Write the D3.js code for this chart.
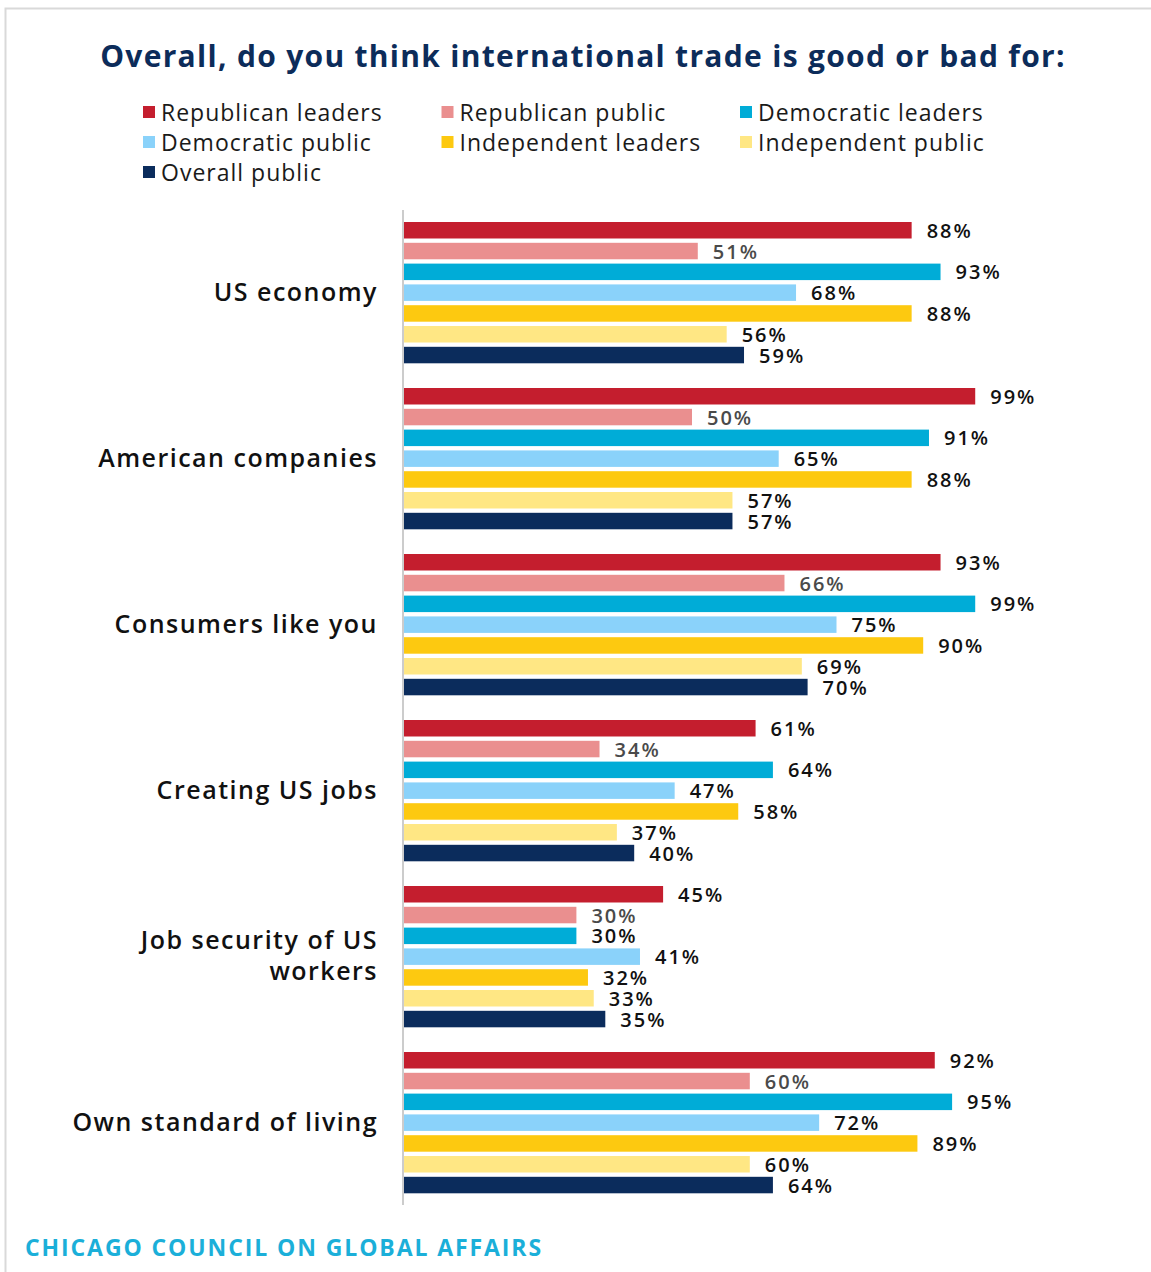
<!DOCTYPE html>
<html>
    <head>
        <meta charset="utf-8">
        <script src="https://d3js.org/d3.v7.min.js"></script>
        <style>
            body { margin: 0; background: #ffffff; }
            #trade-svg .font { font-family: "Open Sans", "Noto Sans", sans-serif; }
            #trade-svg .title { fill: #0c2c5a; font-size: 30px; font-weight: 700; letter-spacing: 1.3px; }
            #trade-svg .legend-text { fill: #1a1a1a; font-size: 23px; letter-spacing: 1px; }
            #trade-svg .category { fill: #111111; font-size: 25px; font-weight: 600; letter-spacing: 1.5px; }
            #trade-svg .value { fill: #111111; font-size: 20px; font-weight: 600; letter-spacing: 2px; }
            #trade-svg .value.muted { fill: #4a4a4a; }
            #trade-svg .footer { fill: #1bafd9; font-size: 23px; font-weight: 700; letter-spacing: 1.9px; }
        </style>
    </head>
    <body>
        <script>
            const SVG_WIDTH = 1151;
            const SVG_HEIGHT = 1272;
            const TITLE_TXT = "Overall, do you think international trade is good or bad for:";
            const FOOTER_TXT = "CHICAGO COUNCIL ON GLOBAL AFFAIRS";

            const CATEGORIES = [
                "US economy",
                "American companies",
                "Consumers like you",
                "Creating US jobs",
                "Job security of US workers",
                "Own standard of living"
            ];
            const CATEGORY_LINES = {
                "Job security of US workers": ["Job security of US", "workers"]
            };
            const SERIES = [
                "Republican leaders",
                "Republican public",
                "Democratic leaders",
                "Democratic public",
                "Independent leaders",
                "Independent public",
                "Overall public"
            ];
            const COLORS = ["#c41e2e", "#ea8f8f", "#00acd7", "#8ad2fa", "#fdc910", "#ffe784", "#0b2c5c"];

            // one array per category, in SERIES order
            const US_ECONOMY = [88, 51, 93, 68, 88, 56, 59];
            const AMERICAN_COMPANIES = [99, 50, 91, 65, 88, 57, 57];
            const CONSUMERS = [93, 66, 99, 75, 90, 69, 70];
            const US_JOBS = [61, 34, 64, 47, 58, 37, 40];
            const JOB_SECURITY = [45, 30, 30, 41, 32, 33, 35];
            const STANDARD_OF_LIVING = [92, 60, 95, 72, 89, 60, 64];
            const VALUES = [US_ECONOMY, AMERICAN_COMPANIES, CONSUMERS, US_JOBS, JOB_SECURITY, STANDARD_OF_LIVING];

            var dataset = [];
            CATEGORIES.forEach(function(c, i) {
                SERIES.forEach(function(s, j) {
                    dataset.push({category: c, series: s, value: VALUES[i][j]});
                });
            });

            var svg = d3.select("body")
                .append("svg")
                .attr("width", SVG_WIDTH)
                .attr("height", SVG_HEIGHT)
                .attr("id", "trade-svg");

            // frame
            svg.append("rect")
                .attr("x", 5.5)
                .attr("y", 8.5)
                .attr("width", SVG_WIDTH + 20)
                .attr("height", SVG_HEIGHT + 20)
                .attr("fill", "none")
                .attr("stroke", "#d9d9d9")
                .attr("stroke-width", 2);

            svg.append("text")
                .attr("x", 583)
                .attr("y", 67)
                .attr("text-anchor", "middle")
                .text(TITLE_TXT)
                .classed("title font", true);

            // legend, 3 columns
            var legendX = d3.scalePoint().domain([0, 1, 2]).range([143, 740]);
            var legendY = d3.scalePoint().domain([0, 1, 2]).range([112, 172]);
            var legend = svg.selectAll(".legend")
                .data(SERIES)
                .enter()
                .append("g")
                .classed("legend", true)
                .attr("transform", function(d, i) {
                    return "translate(" + legendX(i % 3) + "," + legendY(Math.floor(i / 3)) + ")";
                });
            legend.append("rect")
                .attr("x", 0)
                .attr("y", -6)
                .attr("width", 12)
                .attr("height", 12)
                .attr("fill", function(d, i) { return COLORS[i]; });
            legend.append("text")
                .attr("x", 18)
                .attr("y", 0)
                .attr("dominant-baseline", "central")
                .text(function(d) { return d; })
                .classed("legend-text font", true);

            var xScale = d3.scaleLinear()
                .domain([0, 100])
                .range([403, 981]);
            var groupScale = d3.scaleBand()
                .domain(CATEGORIES)
                .range([212, 1208]);
            var barScale = d3.scaleBand()
                .domain(SERIES)
                .range([10, 151.3])
                .paddingInner(0.207);
            var colorScale = d3.scaleOrdinal()
                .domain(SERIES)
                .range(COLORS);

            svg.append("line")
                .attr("x1", xScale(0))
                .attr("x2", xScale(0))
                .attr("y1", 210)
                .attr("y2", 1205)
                .attr("stroke", "#cccccc")
                .attr("stroke-width", 2);

            var groups = svg.selectAll(".group")
                .data(CATEGORIES)
                .enter()
                .append("g")
                .classed("group", true)
                .attr("transform", function(d) { return "translate(0," + groupScale(d) + ")"; });

            groups.append("text")
                .attr("x", 378)
                .attr("y", 10 + 141.3 / 2)
                .attr("text-anchor", "end")
                .classed("category font", true)
                .each(function(d) {
                    var lines = CATEGORY_LINES[d] || [d];
                    var t = d3.select(this);
                    lines.forEach(function(line, k) {
                        t.append("tspan")
                            .attr("x", 378)
                            .attr("dy", k === 0 ? ((-(lines.length - 1) * 31 / 2) + 8) : 31)
                            .text(line);
                    });
                });

            groups.selectAll(".bar")
                .data(function(c) { return dataset.filter(function(d) { return d.category === c; }); })
                .enter()
                .append("rect")
                .classed("bar", true)
                .attr("x", xScale(0) + 1)
                .attr("y", function(d) { return barScale(d.series); })
                .attr("width", function(d) { return xScale(d.value) - xScale(0) - 1; })
                .attr("height", barScale.bandwidth())
                .attr("fill", function(d) { return colorScale(d.series); });

            groups.selectAll(".value")
                .data(function(c) { return dataset.filter(function(d) { return d.category === c; }); })
                .enter()
                .append("text")
                .attr("class", function(d) {
                    return d.series === "Republican public" ? "value muted font" : "value font";
                })
                .attr("x", function(d) { return xScale(d.value) + 15; })
                .attr("y", function(d) { return barScale(d.series) + barScale.bandwidth() / 2; })
                .attr("dominant-baseline", "central")
                .text(function(d) { return d.value + "%"; });

            svg.append("text")
                .attr("x", 25)
                .attr("y", 1256)
                .text(FOOTER_TXT)
                .classed("footer font", true);
        </script>
    </body>
</html>
